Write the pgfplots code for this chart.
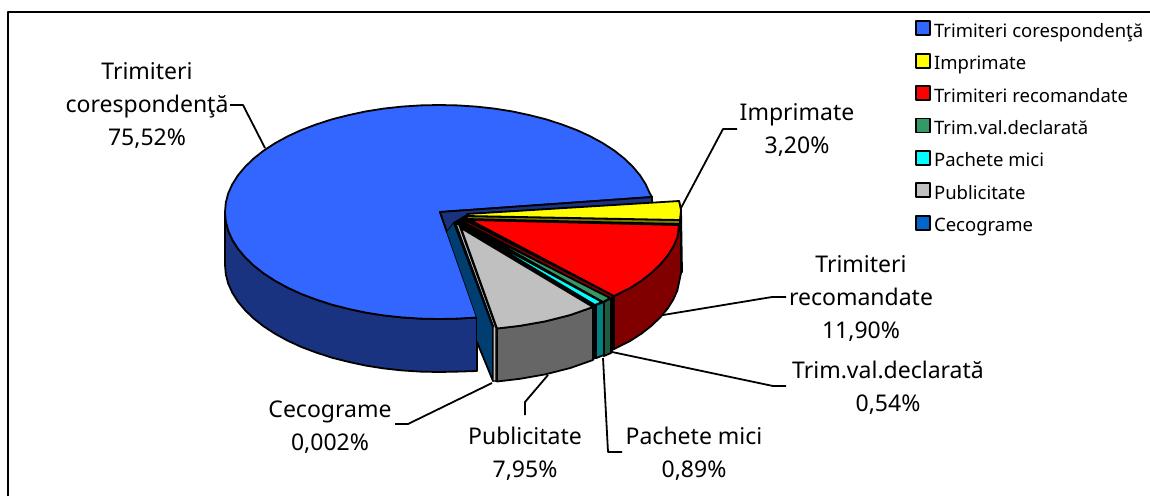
\documentclass[border=0pt]{standalone}
\usepackage{fontspec}
\setmainfont{Noto Sans}
\usepackage{pgfplots}
\pgfplotsset{compat=1.18}
\definecolor{cblue}{HTML}{3366FF}\definecolor{cbluew}{HTML}{1A3380}
\definecolor{cyel}{HTML}{FFFF00}\definecolor{cyelw}{HTML}{808000}
\definecolor{cred}{HTML}{FF0000}\definecolor{credw}{HTML}{800000}
\definecolor{cgrn}{HTML}{339966}\definecolor{cgrnw}{HTML}{1F5C40}
\definecolor{ccya}{HTML}{00FFFF}\definecolor{ccyaw}{HTML}{008080}
\definecolor{cgry}{HTML}{C0C0C0}\definecolor{cgryw}{HTML}{666666}
\definecolor{ccec}{HTML}{0066CC}\definecolor{ccecw}{HTML}{003D70}
\begin{document}
\begin{tikzpicture}
\path[use as bounding box] (0,0) rectangle (1150pt,496pt);
\begin{axis}[
  at={(0,0)}, anchor=south west,
  x=1pt, y=1pt, y dir=reverse,
  xmin=0, xmax=1150, ymin=0, ymax=496,
  hide axis, clip=false, scale only axis,
  axis line style={draw=none},
  every axis plot/.append style={draw=black, line width=1.8pt, line join=round, mark=none},
  legend image code/.code={\draw[#1,line width=1.9pt] (0pt,-3pt) rectangle (14pt,11pt);},
  legend cell align=left,
  legend style={at={(axis cs:915,20)}, anchor=north west, draw=none, fill=none,
    inner sep=0pt, row sep=11.5pt, column sep=3pt,
    font={\fontsize{18.5}{18.5}\selectfont},
    nodes={inner sep=0pt, text height=14pt, text depth=4pt}},
]
% frame
\addplot[line width=1.8pt, forget plot] coordinates {(8,496) (8,12) (1150,12)};

% Trimiteri corespondenta: wall, top, cut face
\addplot[fill=cbluew, forget plot] coordinates {
 (225,212) (225.8,221.3) (228.2,230.6) (232.3,239.7) (237.9,248.6) (245.1,257.2) (253.7,265.5) (263.7,273.4) (275.1,280.8) (287.7,287.7) (301.4,294) (316.3,299.6) (332,304.7) (348.6,308.9) (365.8,312.6) (383.6,315.4) (401.8,317.4) (420.3,318.6) (439,319) (457.7,318.6) (477,317.5)
 (477,371) (457.7,371.6) (439,372) (420.3,371.6) (401.8,370.4) (383.6,368.4) (365.8,365.6) (348.6,361.9) (332,357.7) (316.3,352.6) (301.4,347) (287.7,340.7) (275.1,333.8) (263.7,326.4) (253.7,318.5) (245.1,310.2) (237.9,301.6) (232.3,292.7) (228.2,283.6) (225.8,274.3) (225,265)} --cycle;
\addplot[fill=cblue] coordinates {
 (440,212) (652,197) (649.8,193.4) (645.7,184.3) (640.1,175.4) (632.9,166.8) (624.3,158.5) (614.3,150.6) (602.9,143.2) (590.3,136.3) (576.6,130) (561.7,124.4) (546,119.3) (529.4,115.1) (512.2,111.4) (494.4,108.6) (476.2,106.6) (457.7,105.4) (439,105)
 (420.3,105.4) (401.8,106.6) (383.6,108.6) (365.8,111.4) (348.6,115.1) (332,119.3) (316.3,124.4) (301.4,130) (287.7,136.3) (275.1,143.2) (263.7,150.6) (253.7,158.5) (245.1,166.8) (237.9,175.4) (232.3,184.3) (228.2,193.4) (225.8,202.7) (225,212)
 (225.8,221.3) (228.2,230.6) (232.3,239.7) (237.9,248.6) (245.1,257.2) (253.7,265.5) (263.7,273.4) (275.1,280.8) (287.7,287.7) (301.4,294) (316.3,299.6) (332,304.7) (348.6,308.9) (365.8,312.6) (383.6,315.4) (401.8,317.4) (420.3,318.6) (439,319) (457.7,318.6) (477,317.5)} --cycle;
\addlegendentry{Trimiteri corespondenţă}
\addplot[fill=cbluew, forget plot] coordinates {(440,212) (652,197) (652,203) (470,214) (454,223) (447,232)} --cycle;

% dark backing between the exploded slices
\addplot[fill=black, forget plot] coordinates {(454,223) (467,215) (614,296) (614,349) (596,358) (496,381) (493,327)} --cycle;

% Imprimate
\addplot[fill=cyelw, forget plot] coordinates {(679,201) (681,210) (682,272) (680,272) (679,224)} --cycle;
\addplot[fill=cyelw, forget plot] coordinates {(467,216) (680,220) (680,224) (467,219)} --cycle;
\addplot[fill=cyel] coordinates {(467,214) (679,201) (681,210) (680,220) (467,216)} --cycle;
\addlegendentry{Imprimate}

% Trimiteri recomandate
\addplot[fill=credw, forget plot] coordinates {
 (681,222) (680.2,224.6) (677.3,237.6) (673.2,246.7) (667.6,255.6) (660.4,264.2) (651.8,272.5) (641.8,280.4) (630.4,287.8) (614,296)
 (614,349) (630.4,340.8) (641.8,333.4) (651.8,325.5) (660.4,317.2) (667.6,308.6) (673.2,299.7) (677.3,290.6) (681,273)} --cycle;
\addplot[fill=credw, forget plot] coordinates {(467,221) (614,296) (610,299) (465,223)} --cycle;
\addplot[fill=cred] coordinates {(470,220) (679,225) (677.3,237.6) (673.2,246.7) (667.6,255.6) (660.4,264.2) (651.8,272.5) (641.8,280.4) (630.4,287.8) (614,296)} --cycle;
\addlegendentry{Trimiteri recomandate}

% Trim.val.declarata
\addplot[fill=cgrnw, forget plot] coordinates {(604,302) (611,298) (611,353) (604,356)} --cycle;
\addplot[fill=cgrn] coordinates {(464,224) (610,298) (603,302)} --cycle;
\addlegendentry{Trim.val.declarată}

% Pachete mici
\addplot[fill=ccyaw, forget plot] coordinates {(596,305) (604,302) (604,355) (596,358)} --cycle;
\addplot[fill=ccya] coordinates {(463,226) (602,302) (595,305)} --cycle;
\addlegendentry{Pachete mici}

% Publicitate
\addplot[fill=cgryw, forget plot] coordinates {
 (497,328.5) (520,325.8) (545,321.4) (570,315.1) (593,307)
 (593,360) (570,368.1) (545,374.4) (520,378.8) (497,381.5)} --cycle;
\addplot[fill=cgry] coordinates {(461,228) (593,307) (570,315.1) (545,321.4) (520,325.8) (497,328.5)} --cycle;
\addlegendentry{Publicitate}

% Cecograme
\addplot[draw=none, fill=ccecw, forget plot] coordinates {(454,223) (493,327) (493,381) (477,342) (477,318) (447,232)} --cycle;
\addplot[forget plot] coordinates {(454,223) (493,327) (493,381) (477,342)};
\addplot[fill=cgry, line width=1.2pt, forget plot] coordinates {(459,225) (496,328) (496,381) (493,381) (493,327) (455,223)} --cycle;
\addplot[fill=ccec, line width=0.6pt] coordinates {(455,223) (456,223) (494,327) (493,327)} --cycle;
\addlegendentry{Cecograme}

% leader lines
\addplot[line width=1.8pt, forget plot] coordinates {(230,105) (243,105) (265,148)};
\addplot[line width=1.8pt, forget plot] coordinates {(737,129) (723,129) (681,208)};
\addplot[line width=1.8pt, forget plot] coordinates {(786,297) (772,297) (663,315)};
\addplot[line width=1.8pt, forget plot] coordinates {(786,386) (773,386) (612,352)};
\addplot[line width=1.8pt, forget plot] coordinates {(622,452) (608,452) (603,358)};
\addplot[line width=1.8pt, forget plot] coordinates {(525,415) (525,402) (548,375)};
\addplot[line width=1.8pt, forget plot] coordinates {(395,424) (408,424) (492,383)};

% labels
\tikzset{lab/.style={align=center, inner sep=0pt, font={\fontsize{23}{33}\selectfont}}}
\node[lab] at (axis cs:147,106) {Trimiteri\\corespondenţă\\75,52\%};
\node[lab] at (axis cs:797,130) {Imprimate\\3,20\%};
\node[lab] at (axis cs:861,298) {Trimiteri\\recomandate\\11,90\%};
\node[lab] at (axis cs:888,388) {Trim.val.declarată\\0,54\%};
\node[lab] at (axis cs:694,454) {Pachete mici\\0,89\%};
\node[lab] at (axis cs:525,454) {Publicitate\\7,95\%};
\node[lab] at (axis cs:330,427) {Cecograme\\0,002\%};
\end{axis}
\end{tikzpicture}
\end{document}
